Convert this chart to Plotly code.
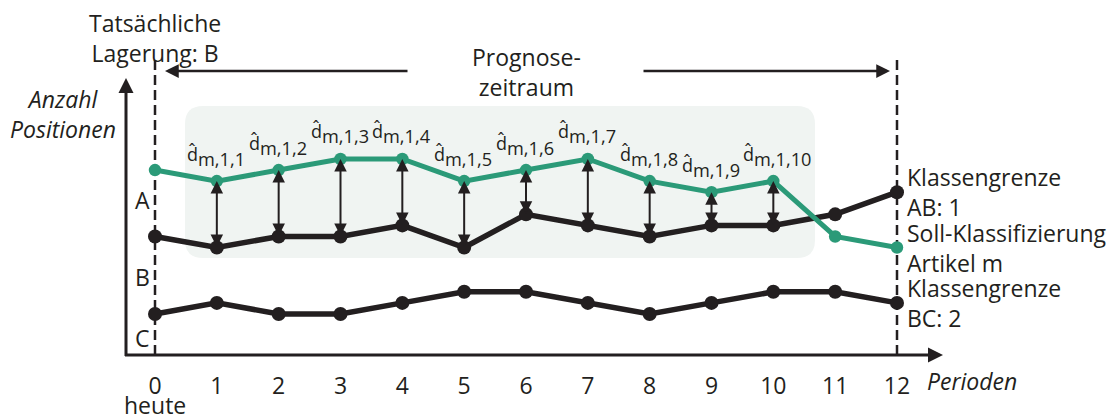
import plotly.graph_objects as go

# ---------------- data ----------------
periods = list(range(13))
tick_labels = [str(p) for p in periods]
soll_klasse = [15, 14, 15, 16, 16, 14, 15, 16, 14, 13, 14, 9, 8]      # Soll-Klassifizierung Artikel m
grenze_ab = [9, 8, 9, 9, 10, 8, 11, 10, 9, 10, 10, 11, 13]           # Klassengrenze AB: 1
grenze_bc = [2, 3, 2, 2, 3, 4, 4, 3, 2, 3, 4, 4, 3]                  # Klassengrenze BC: 2
diff_periods = list(range(1, 11))
diff_labels = [f"m,1,{p}" for p in diff_periods]
region_labels = ["A", "B", "C"]
region_levels = [12.3, 5.3, -0.2]
series_labels = ["Klassengrenze<br>AB: 1", "Soll-Klassifizierung<br>Artikel m", "Klassengrenze<br>BC: 2"]

# ---------------- styling / layout helpers ----------------
W, H = 1114, 416
DARK = "#231f20"
GREEN = "#2b9a78"
FONT = "Open Sans"
FS = 23
X0PX, XSTEP = 155.0, (897.0 - 155.0) / 12.0
Y0PX, YSTEP = 336.1, 11.07


def dx(px):
    return (px - X0PX) / XSTEP


def dy(py):
    return (Y0PX - py) / YSTEP


fig = go.Figure()

fig.add_trace(go.Scatter(x=periods, y=grenze_bc, mode="lines+markers",
                         line=dict(color=DARK, width=5.5), marker=dict(size=14, color=DARK),
                         hoverinfo="skip"))
fig.add_trace(go.Scatter(x=periods, y=grenze_ab, mode="lines+markers",
                         line=dict(color=DARK, width=5.5), marker=dict(size=14, color=DARK),
                         hoverinfo="skip"))
fig.add_trace(go.Scatter(x=periods, y=soll_klasse, mode="lines+markers",
                         line=dict(color=GREEN, width=5), marker=dict(size=12.5, color=GREEN),
                         hoverinfo="skip"))

# shaded forecast box (rounded)
L, R, T, B = 185, 815, 106, 258
r = 18
path = (f"M {dx(L + r)},{dy(T)} L {dx(R - r)},{dy(T)} Q {dx(R)},{dy(T)} {dx(R)},{dy(T + r)} "
        f"L {dx(R)},{dy(B - r)} Q {dx(R)},{dy(B)} {dx(R - r)},{dy(B)} "
        f"L {dx(L + r)},{dy(B)} Q {dx(L)},{dy(B)} {dx(L)},{dy(B - r)} "
        f"L {dx(L)},{dy(T + r)} Q {dx(L)},{dy(T)} {dx(L + r)},{dy(T)} Z")
shapes = [dict(type="path", path=path, xref="x", yref="y", fillcolor="#f0f4f2",
               line=dict(width=0), layer="below")]
for p in (periods[0], periods[-1]):
    shapes.append(dict(type="line", xref="x", yref="y", x0=p, x1=p, y0=dy(355), y1=dy(58),
                       line=dict(color=DARK, width=2.5, dash="10px,5px"), layer="below"))

ann = []


def arrow(x, y, ax, ay, width, size, both=False):
    d = dict(x=x, y=y, ax=ax, ay=ay, xref="x", yref="y", axref="x", ayref="y",
             text="", showarrow=True, arrowhead=2, arrowsize=size, arrowwidth=width,
             arrowcolor=DARK, standoff=0, startstandoff=0, font=dict(size=1), borderpad=0)
    if both:
        d.update(arrowside="end+start", startarrowhead=2, startarrowsize=size)
    return d


# axes arrows
ann.append(arrow(dx(126), dy(78), dx(126), dy(356.5), 3, 1.0))
ann.append(arrow(dx(943), dy(355), dx(124.5), dy(355), 3, 1.0))
# forecast horizon arrows
ann.append(arrow(dx(165), dy(71), dx(408), dy(71), 2.5, 1.1))
ann.append(arrow(dx(890), dy(71), dx(643), dy(71), 2.5, 1.1))
# deviation double arrows
for p in diff_periods:
    ann.append(arrow(p, soll_klasse[p], p, grenze_ab[p], 2, 1.25, both=True))

# deviation labels
for p, lab in zip(diff_periods, diff_labels):
    ann.append(dict(x=p, y=soll_klasse[p], xref="x", yref="y", xanchor="left", yanchor="middle",
                    xshift=-32, yshift=25, showarrow=False,
                    text=f'<span style="font-size:18px">d\u0302</span><sub>{lab}</sub>',
                    font=dict(family=FONT, size=26, color=DARK)))

# region labels
for lab, lv in zip(region_labels, region_levels):
    ann.append(dict(x=dx(142), y=lv, xref="x", yref="y", text=lab, showarrow=False,
                    font=dict(family=FONT, size=FS, color=DARK)))

# series labels at the right
for lab, vals in zip(series_labels, [grenze_ab, soll_klasse, grenze_bc]):
    ann.append(dict(x=periods[-1], y=vals[-1], xref="x", yref="y", xanchor="left", yanchor="middle",
                    xshift=8, showarrow=False, align="left", text=lab,
                    font=dict(family=FONT, size=FS, color=DARK)))

# free texts
ann.append(dict(x=periods[0], y=dy(38), xref="x", yref="y", text="Tatsächliche<br>Lagerung: B",
                showarrow=False, font=dict(family=FONT, size=FS, color=DARK)))
ann.append(dict(x=dx(526), y=dy(72), xref="x", yref="y", text="Prognose-<br>zeitraum",
                showarrow=False, font=dict(family=FONT, size=FS, color=DARK)))
ann.append(dict(x=dx(63), y=dy(114), xref="x", yref="y", text="<i>Anzahl<br>Positionen</i>",
                showarrow=False, font=dict(family=FONT, size=FS, color=DARK)))
ann.append(dict(x=dx(925), y=dy(381), xref="x", yref="y", xanchor="left", text="<i>Perioden</i>",
                showarrow=False, font=dict(family=FONT, size=FS, color=DARK)))
ann.append(dict(x=periods[0], y=dy(405), xref="x", yref="y", text="heute",
                showarrow=False, font=dict(family=FONT, size=FS, color=DARK)))

fig.update_layout(
    width=W, height=H, margin=dict(l=0, r=0, t=0, b=0),
    paper_bgcolor="white", plot_bgcolor="white", showlegend=False,
    shapes=shapes, annotations=ann,
    xaxis=dict(range=[dx(0), dx(W)], anchor="free", position=(H - 355) / H,
               tickvals=periods, ticktext=tick_labels, showgrid=False, zeroline=False,
               showline=False, ticks="outside", ticklen=10, tickcolor="rgba(0,0,0,0)",
               tickfont=dict(family=FONT, size=FS, color=DARK), fixedrange=True),
    yaxis=dict(range=[dy(H), dy(0)], visible=False, fixedrange=True),
)

fig.write_html("out.html", config={"displayModeBar": False},
               post_script="document.body.style.margin='0px';document.body.style.overflow='hidden';")
